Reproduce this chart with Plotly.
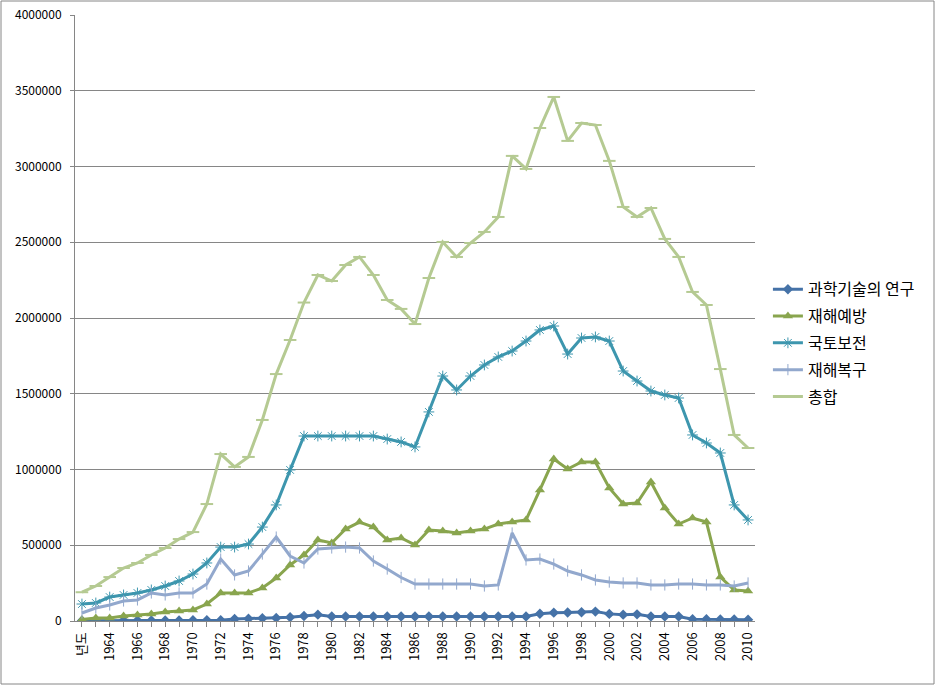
import plotly.graph_objects as go

years = ["년도", "1963", "1964", "1965", "1966", "1967", "1968", "1969", "1970", "1971",
         "1972", "1973", "1974", "1975", "1976", "1977", "1978", "1979", "1980", "1981",
         "1982", "1983", "1984", "1985", "1986", "1987", "1988", "1989", "1990", "1991",
         "1992", "1993", "1994", "1995", "1996", "1997", "1998", "1999", "2000", "2001",
         "2002", "2003", "2004", "2005", "2006", "2007", "2008", "2009", "2010"]

science = [2000, 2000, 2000, 3000, 3000, 3000, 4000, 4000, 5000, 5000,
           5000, 13000, 15000, 18000, 20000, 25000, 33000, 42000, 30000, 30000,
           30000, 30000, 30000, 30000, 30000, 30000, 30000, 30000, 30000, 30000,
           30000, 30000, 30000, 48000, 55000, 56000, 58000, 62000, 47000, 42000,
           44000, 30000, 30000, 30000, 12000, 12000, 10000, 10000, 9000]

prevention = [10000, 20000, 20000, 33000, 40000, 46000, 59000, 66000, 73000, 112000,
              185000, 185000, 185000, 218000, 284000, 370000, 436000, 535000, 515000, 607000,
              653000, 620000, 535000, 548000, 502000, 601000, 594000, 581000, 594000, 607000,
              640000, 653000, 667000, 865000, 1069000, 1003000, 1050000, 1050000, 878000, 772000,
              779000, 918000, 746000, 640000, 680000, 653000, 290000, 205000, 198000]

land = [112000, 119000, 158000, 172000, 185000, 205000, 231000, 264000, 310000, 383000,
        488000, 488000, 508000, 620000, 766000, 997000, 1221000, 1221000, 1221000, 1221000,
        1221000, 1221000, 1201000, 1182000, 1149000, 1380000, 1617000, 1525000, 1617000, 1690000,
        1743000, 1782000, 1848000, 1921000, 1947000, 1762000, 1868000, 1875000, 1848000, 1650000,
        1584000, 1518000, 1492000, 1472000, 1228000, 1175000, 1109000, 766000, 667000]

recovery = [53000, 86000, 106000, 132000, 139000, 185000, 172000, 185000, 185000, 244000,
            409000, 304000, 330000, 442000, 554000, 429000, 383000, 475000, 482000, 488000,
            482000, 396000, 343000, 287000, 244000, 244000, 244000, 244000, 244000, 231000,
            238000, 581000, 403000, 409000, 376000, 330000, 304000, 271000, 257000, 251000,
            251000, 238000, 238000, 244000, 244000, 238000, 238000, 231000, 251000]

total = [190000, 231000, 290000, 350000, 383000, 436000, 482000, 541000, 587000, 772000,
         1102000, 1017000, 1083000, 1327000, 1630000, 1855000, 2102000, 2284000, 2244000, 2350000,
         2403000, 2284000, 2119000, 2060000, 1960000, 2264000, 2502000, 2403000, 2495000, 2568000,
         2667000, 3070000, 2984000, 3254000, 3459000, 3169000, 3287000, 3274000, 3037000, 2733000,
         2667000, 2726000, 2522000, 2403000, 2172000, 2086000, 1663000, 1228000, 1142000]

series_names = ["과학기술의 연구", "재해예방", "국토보전", "재해복구", "총합"]

x = list(range(len(years)))
ticktext = [lab if i % 2 == 0 else "" for i, lab in enumerate(years)]

FONT = "Noto Sans CJK KR, Noto Sans, sans-serif"
GRID = "#868686"

fig = go.Figure()

styles = [
    (science, "#4572A7", dict(symbol="diamond", size=8, color="#4572A7")),
    (prevention, "#89A54E", dict(symbol="triangle-up", size=9, color="#89A54E")),
    (land, "#3D96AE", dict(symbol="asterisk-open", size=9, color="#3D96AE",
                           line=dict(width=1, color="#3D96AE"))),
    (recovery, "#92A8CD", dict(symbol="line-ns-open", size=8, color="#92A8CD",
                               line=dict(width=1, color="#92A8CD"))),
    (total, "#B5CA92", dict(symbol="line-ew-open", size=9, color="#B5CA92",
                            line=dict(width=2, color="#B5CA92"))),
]

for name, (vals, col, mk) in zip(series_names, styles):
    fig.add_trace(go.Scatter(
        x=x, y=vals, name=name, mode="lines+markers",
        line=dict(color=col, width=3),
        marker=mk, legendgroup=name,
    ))

fig.update_layout(
    width=936, height=686,
    margin=dict(l=75, r=181, t=15, b=65, autoexpand=False),
    paper_bgcolor="white", plot_bgcolor="white",
    font=dict(family=FONT, size=12, color="#000000"),
    showlegend=True,
    legend=dict(
        x=1.019, y=0.459, xanchor="left", yanchor="middle",
        font=dict(family=FONT, size=16, color="#000000"),
        tracegroupgap=3, traceorder="grouped",
        bgcolor="rgba(0,0,0,0)",
    ),
    xaxis=dict(
        range=[-0.5, len(years) - 0.5],
        tickmode="array", tickvals=x, ticktext=ticktext,
        tickangle=-90, ticks="outside", ticklen=5, tickcolor=GRID,
        showgrid=False, zeroline=False, automargin=False,
        showline=True, linecolor=GRID, linewidth=1,
        tickfont=dict(family=FONT, size=13),
    ),
    yaxis=dict(
        range=[0, 4000000], dtick=500000, tickformat="d",
        showgrid=True, gridcolor=GRID, gridwidth=1, automargin=False,
        zeroline=False, showline=True, linecolor=GRID, linewidth=1,
        ticks="outside", ticklen=4, tickcolor=GRID,
        ticklabelstandoff=6,
        tickfont=dict(family=FONT, size=12),
    ),
    shapes=[dict(
        type="rect", xref="paper", yref="paper",
        x0=(1 - 75) / 680, x1=(934 - 75) / 680,
        y0=(621 - 684) / 606, y1=(621 - 1) / 606,
        line=dict(color=GRID, width=1), fillcolor="rgba(0,0,0,0)", layer="below",
    )],
)

fig.write_html("out.html", config={"displayModeBar": False},
               post_script="document.body.style.margin='0';")
